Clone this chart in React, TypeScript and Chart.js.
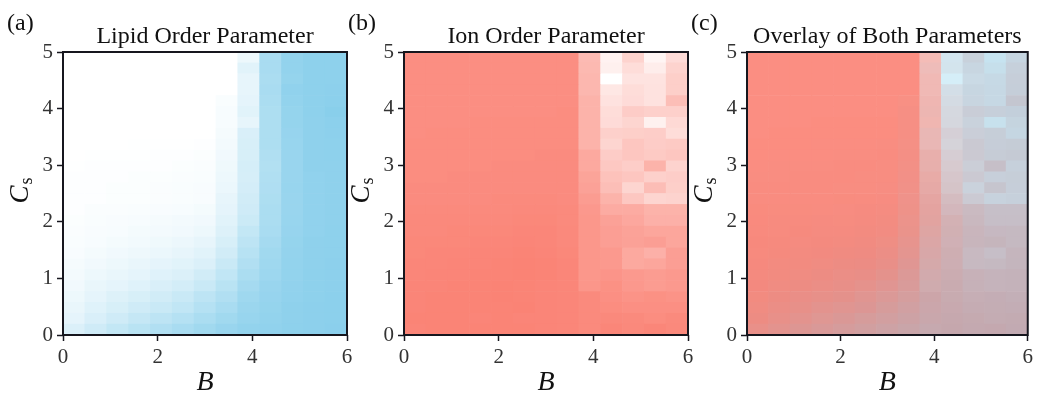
import React, { useEffect, useRef } from "react";
import { Chart, registerables } from "chart.js";

Chart.register(...registerables);

const SERIF = "'Liberation Serif', 'Times New Roman', serif";

// ---- data -------------------------------------------------------------
const bValues = [0, 0.5, 1, 1.5, 2, 2.5, 3, 3.5, 4, 4.5, 5, 5.5, 6];
const csValues = [
  0, 0.2, 0.4, 0.6, 0.8, 1.0, 1.2, 1.4, 1.6, 1.8, 2.0, 2.2, 2.4, 2.6, 2.8, 3.0,
  3.2, 3.4, 3.6, 3.8, 4.0, 4.2, 4.4, 4.6, 4.8, 5.0,
];
const bExtent = [0, 6];
const csExtent = [0, 5];
const bTicks = [0, 2, 4, 6];
const csTicks = [0, 1, 2, 3, 4, 5];

const panelLabels = ["(a)", "(b)", "(c)"];
const panelTitles = [
  "Lipid Order Parameter",
  "Ion Order Parameter",
  "Overlay of Both Parameters",
];
const xAxisLabel = "B";
const yAxisLabel = ["C", "s"];

// rows listed from the top (Cs = 5) down to the bottom (Cs = 0)
const lipidOrder = [
  [0, 0, 0, 0, 0, 0, 0, 0, 0.15, 0.72, 0.9, 0.94, 0.94],
  [0, 0, 0, 0, 0, 0, 0, 0, 0.25, 0.72, 0.9, 0.94, 0.94],
  [0, 0, 0, 0, 0, 0, 0, 0, 0.2, 0.7, 0.88, 0.94, 0.94],
  [0, 0, 0, 0, 0, 0, 0, 0, 0.2, 0.72, 0.92, 0.94, 0.95],
  [0, 0, 0, 0, 0, 0, 0, 0.05, 0.22, 0.7, 0.9, 0.94, 0.96],
  [0, 0, 0, 0, 0, 0, 0, 0.07, 0.25, 0.68, 0.88, 0.94, 0.98],
  [0, 0, 0, 0, 0, 0, 0, 0.07, 0.2, 0.68, 0.88, 0.93, 0.96],
  [0, 0, 0, 0, 0, 0, 0, 0.08, 0.32, 0.68, 0.87, 0.93, 0.95],
  [0, 0, 0, 0.01, 0.01, 0.01, 0.02, 0.1, 0.33, 0.68, 0.86, 0.93, 0.94],
  [0, 0.01, 0.01, 0.01, 0.02, 0.02, 0.03, 0.12, 0.33, 0.66, 0.85, 0.93, 0.94],
  [0.01, 0.02, 0.02, 0.02, 0.02, 0.03, 0.04, 0.13, 0.35, 0.64, 0.85, 0.93, 0.93],
  [0.02, 0.02, 0.02, 0.03, 0.03, 0.04, 0.05, 0.15, 0.34, 0.66, 0.85, 0.92, 0.93],
  [0.02, 0.02, 0.03, 0.03, 0.04, 0.05, 0.06, 0.17, 0.36, 0.67, 0.86, 0.92, 0.93],
  [0.02, 0.02, 0.03, 0.03, 0.04, 0.05, 0.06, 0.2, 0.38, 0.68, 0.85, 0.92, 0.93],
  [0.02, 0.04, 0.04, 0.05, 0.06, 0.07, 0.09, 0.22, 0.4, 0.7, 0.85, 0.92, 0.93],
  [0.03, 0.05, 0.06, 0.07, 0.08, 0.1, 0.12, 0.25, 0.43, 0.7, 0.86, 0.92, 0.93],
  [0.04, 0.06, 0.07, 0.09, 0.1, 0.12, 0.15, 0.28, 0.5, 0.72, 0.87, 0.92, 0.94],
  [0.05, 0.07, 0.09, 0.11, 0.13, 0.16, 0.2, 0.33, 0.55, 0.75, 0.88, 0.93, 0.94],
  [0.06, 0.09, 0.12, 0.14, 0.17, 0.2, 0.25, 0.38, 0.6, 0.78, 0.89, 0.93, 0.94],
  [0.08, 0.12, 0.15, 0.18, 0.22, 0.25, 0.3, 0.45, 0.65, 0.8, 0.9, 0.93, 0.95],
  [0.1, 0.15, 0.18, 0.22, 0.27, 0.3, 0.38, 0.52, 0.7, 0.82, 0.9, 0.94, 0.95],
  [0.12, 0.18, 0.22, 0.27, 0.32, 0.37, 0.45, 0.58, 0.75, 0.85, 0.91, 0.94, 0.95],
  [0.15, 0.22, 0.28, 0.33, 0.38, 0.45, 0.55, 0.65, 0.8, 0.87, 0.92, 0.94, 0.96],
  [0.18, 0.27, 0.33, 0.4, 0.45, 0.52, 0.62, 0.72, 0.83, 0.88, 0.93, 0.95, 0.96],
  [0.22, 0.32, 0.4, 0.48, 0.55, 0.62, 0.7, 0.78, 0.86, 0.9, 0.93, 0.95, 0.96],
  [0.3, 0.4, 0.5, 0.58, 0.65, 0.72, 0.78, 0.85, 0.9, 0.92, 0.94, 0.95, 0.97],
];

const ionOrder = [
  [0.89, 0.89, 0.89, 0.89, 0.89, 0.89, 0.89, 0.89, 0.54, 0.1, 0.35, 0.08, 0.28],
  [0.89, 0.89, 0.89, 0.89, 0.89, 0.89, 0.89, 0.89, 0.55, 0.12, 0.27, 0.14, 0.35],
  [0.89, 0.89, 0.89, 0.89, 0.89, 0.89, 0.89, 0.89, 0.57, 0.0, 0.22, 0.22, 0.38],
  [0.89, 0.89, 0.89, 0.89, 0.89, 0.89, 0.89, 0.89, 0.57, 0.19, 0.27, 0.23, 0.38],
  [0.89, 0.89, 0.89, 0.89, 0.89, 0.89, 0.89, 0.89, 0.6, 0.23, 0.28, 0.23, 0.51],
  [0.89, 0.89, 0.89, 0.89, 0.89, 0.89, 0.89, 0.9, 0.6, 0.27, 0.4, 0.37, 0.37],
  [0.89, 0.89, 0.89, 0.9, 0.9, 0.9, 0.9, 0.9, 0.6, 0.28, 0.33, 0.11, 0.3],
  [0.89, 0.9, 0.9, 0.9, 0.9, 0.9, 0.9, 0.9, 0.6, 0.37, 0.38, 0.39, 0.27],
  [0.9, 0.9, 0.9, 0.9, 0.9, 0.9, 0.9, 0.9, 0.6, 0.33, 0.45, 0.4, 0.42],
  [0.9, 0.9, 0.9, 0.9, 0.9, 0.9, 0.91, 0.91, 0.68, 0.4, 0.45, 0.42, 0.45],
  [0.9, 0.9, 0.9, 0.9, 0.91, 0.91, 0.91, 0.91, 0.68, 0.43, 0.39, 0.6, 0.35],
  [0.9, 0.9, 0.91, 0.91, 0.91, 0.91, 0.91, 0.91, 0.72, 0.48, 0.45, 0.37, 0.39],
  [0.91, 0.91, 0.91, 0.91, 0.91, 0.91, 0.91, 0.91, 0.74, 0.51, 0.33, 0.52, 0.38],
  [0.91, 0.91, 0.91, 0.91, 0.92, 0.92, 0.92, 0.91, 0.78, 0.6, 0.44, 0.33, 0.35],
  [0.92, 0.92, 0.92, 0.92, 0.92, 0.93, 0.93, 0.92, 0.81, 0.66, 0.66, 0.6, 0.6],
  [0.93, 0.93, 0.93, 0.93, 0.93, 0.94, 0.94, 0.92, 0.82, 0.74, 0.69, 0.62, 0.62],
  [0.93, 0.93, 0.94, 0.94, 0.94, 0.95, 0.95, 0.93, 0.82, 0.76, 0.73, 0.7, 0.7],
  [0.94, 0.94, 0.94, 0.95, 0.95, 0.96, 0.95, 0.93, 0.82, 0.76, 0.74, 0.76, 0.7],
  [0.94, 0.95, 0.95, 0.96, 0.96, 0.97, 0.96, 0.94, 0.82, 0.8, 0.68, 0.62, 0.76],
  [0.95, 0.95, 0.96, 0.96, 0.97, 0.98, 0.97, 0.95, 0.82, 0.8, 0.68, 0.7, 0.76],
  [0.95, 0.96, 0.96, 0.97, 0.97, 0.98, 0.97, 0.95, 0.82, 0.84, 0.8, 0.78, 0.8],
  [0.96, 0.96, 0.97, 0.97, 0.98, 0.97, 0.96, 0.95, 0.83, 0.87, 0.81, 0.78, 0.8],
  [0.96, 0.97, 0.97, 0.97, 0.98, 0.97, 0.96, 0.95, 0.92, 0.88, 0.85, 0.87, 0.85],
  [0.96, 0.97, 0.97, 0.97, 0.97, 0.98, 0.96, 0.95, 0.92, 0.9, 0.88, 0.88, 0.88],
  [0.97, 0.97, 0.97, 0.96, 0.97, 0.96, 0.96, 0.95, 0.92, 0.93, 0.92, 0.9, 0.92],
  [0.96, 0.97, 0.97, 0.97, 0.97, 0.97, 0.96, 0.95, 0.92, 0.95, 0.93, 0.95, 0.93],
];

// ---- colour maps --------------------------------------------------------
const WHITE = [255, 255, 255];
const SKYBLUE = [135, 206, 235];
const SALMON = [250, 128, 114];
const OVERLAY_ALPHA = 0.5;

function mix(a: number[], b: number[], t: number): number[] {
  return a.map((v, i) => v + (b[i] - v) * t);
}
function rgb(c: number[]): string {
  return `rgb(${Math.round(c[0])},${Math.round(c[1])},${Math.round(c[2])})`;
}
function lipidColor(v: number) {
  return mix(WHITE, SKYBLUE, v);
}
function ionColor(v: number) {
  return mix(WHITE, SALMON, v);
}

const cellColor = [
  (r: number, c: number) => rgb(lipidColor(lipidOrder[r][c])),
  (r: number, c: number) => rgb(ionColor(ionOrder[r][c])),
  (r: number, c: number) =>
    rgb(mix(ionColor(ionOrder[r][c]), SKYBLUE, OVERLAY_ALPHA * lipidOrder[r][c])),
];

// ---- layout -------------------------------------------------------------
const PANELS = [
  { left: 0, width: 360, padRight: 13 },
  { left: 341, width: 360, padRight: 13 },
  { left: 684, width: 353, padRight: 6 },
];
const HEIGHT = 394;

function buildDatasets(idx: number) {
  const dx = (bExtent[1] - bExtent[0]) / bValues.length;
  const dy = (csExtent[1] - csExtent[0]) / csValues.length;
  const nRows = csValues.length;
  return csValues.map((_cs, k) => {
    const r = nRows - 1 - k; // row in the top-to-bottom tables
    return {
      data: bValues.map((_b, i) => ({
        x: bExtent[0] + (i + 0.5) * dx,
        y: [csExtent[0] + k * dy, csExtent[0] + (k + 1) * dy],
      })),
      backgroundColor: bValues.map((_b, i) => cellColor[idx](r, i)),
      borderWidth: 0,
      grouped: false,
      barPercentage: 1,
      categoryPercentage: 1,
    };
  });
}

const framePlugin = {
  id: "frame",
  afterDatasetsDraw(chart: any) {
    const { ctx, chartArea } = chart;
    ctx.save();
    ctx.strokeStyle = "#16161e";
    ctx.lineWidth = 2;
    ctx.strokeRect(
      chartArea.left,
      chartArea.top,
      chartArea.right - chartArea.left,
      chartArea.bottom - chartArea.top
    );
    ctx.restore();
  },
};

function textPlugin(idx: number) {
  return {
    id: "panelText",
    afterDraw(chart: any) {
      const { ctx, chartArea } = chart;
      const cx = (chartArea.left + chartArea.right) / 2;
      const cy = (chartArea.top + chartArea.bottom) / 2;
      ctx.save();
      ctx.fillStyle = "#111111";
      ctx.textBaseline = "alphabetic";
      ctx.textAlign = "left";
      ctx.font = `24px ${SERIF}`;
      ctx.fillText(panelLabels[idx], 7, 30);
      ctx.textAlign = "center";
      ctx.font = `24px ${SERIF}`;
      ctx.fillText(panelTitles[idx], cx, 43);

      // y axis label C_s
      ctx.translate(28, cy - 3);
      ctx.rotate(-Math.PI / 2);
      const fC = `italic 27px ${SERIF}`;
      const fS = `18px ${SERIF}`;
      ctx.font = fC;
      const wC = ctx.measureText(yAxisLabel[0]).width;
      ctx.font = fS;
      const wS = ctx.measureText(yAxisLabel[1]).width;
      const x0 = -(wC + wS + 1) / 2;
      ctx.textAlign = "left";
      ctx.font = fC;
      ctx.fillText(yAxisLabel[0], x0, 0);
      ctx.font = fS;
      ctx.fillText(yAxisLabel[1], x0 + wC + 1, 4);
      ctx.restore();
    },
  };
}

function Panel({ idx }: { idx: number }) {
  const ref = useRef<HTMLCanvasElement>(null);
  const p = PANELS[idx];
  useEffect(() => {
    if (!ref.current) return;
    const tickGrid = {
      display: true,
      drawOnChartArea: false,
      drawTicks: true,
      tickLength: 6,
      tickColor: "#16161e",
      tickWidth: 1.5,
      offset: false,
    };
    const chart = new Chart(ref.current, {
      type: "bar",
      data: { datasets: buildDatasets(idx) as any },
      options: {
        animation: false,
        responsive: false,
        maintainAspectRatio: false,
        events: [],
        layout: { padding: { left: 0, right: p.padRight, top: 52, bottom: 0 } },
        plugins: {
          legend: { display: false },
          tooltip: { enabled: false },
          title: { display: false },
        },
        scales: {
          x: {
            type: "linear",
            min: bExtent[0],
            max: bExtent[1],
            offset: false,
            grid: tickGrid as any,
            border: { display: false },
            ticks: {
              padding: 4,
              color: "#333333",
              font: { family: SERIF, size: 21 },
            },
            afterBuildTicks: (s: any) => {
              s.ticks = bTicks.map((v) => ({ value: v }));
            },
            afterFit: (s: any) => {
              s.height = HEIGHT - 335;
            },
            title: {
              display: true,
              text: xAxisLabel,
              color: "#111111",
              font: { family: SERIF, size: 28, style: "italic", lineHeight: 0.8 },
              padding: { top: 0, bottom: 0 },
            },
          },
          y: {
            type: "linear",
            min: csExtent[0],
            max: csExtent[1],
            grid: tickGrid as any,
            border: { display: false },
            ticks: {
              padding: 4,
              color: "#333333",
              font: { family: SERIF, size: 21 },
            },
            afterBuildTicks: (s: any) => {
              s.ticks = csTicks.map((v) => ({ value: v }));
            },
            afterFit: (s: any) => {
              s.width = 63;
            },
          },
        },
      } as any,
      plugins: [framePlugin, textPlugin(idx)],
    });
    return () => chart.destroy();
  }, [idx]);
  return (
    <canvas
      ref={ref}
      width={p.width}
      height={HEIGHT}
      style={{
        position: "absolute",
        left: p.left,
        top: 0,
        width: p.width,
        height: HEIGHT,
        display: "block",
      }}
    />
  );
}

export default function App() {
  return (
    <div
      style={{
        position: "absolute",
        left: 0,
        top: 0,
        width: 1037,
        height: HEIGHT,
        overflow: "hidden",
        background: "#ffffff",
      }}
    >
      <Panel idx={0} />
      <Panel idx={1} />
      <Panel idx={2} />
    </div>
  );
}
